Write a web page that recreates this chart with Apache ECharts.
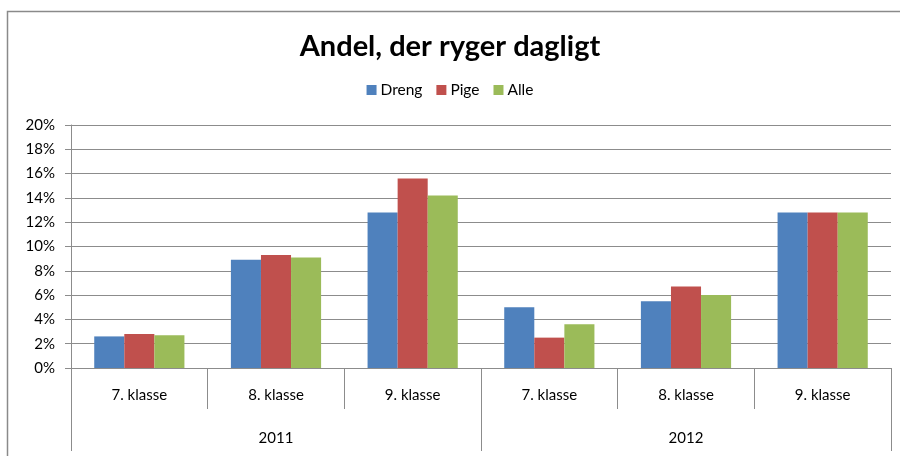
<!DOCTYPE html>
<html>
<head>
<meta charset="utf-8">
<script src="https://cdn.jsdelivr.net/npm/echarts@6/dist/echarts.min.js"></script>
<style>html,body{margin:0;padding:0;background:#fff}#c{width:900px;height:456px}</style>
</head>
<body>
<div id="c"></div>
<script>
const titleText = 'Andel, der ryger dagligt';
const classes = ['7. klasse','8. klasse','9. klasse','7. klasse','8. klasse','9. klasse'];
const years = ['2011','2012'];
const yTicks = [0, 0.02, 0.04, 0.06, 0.08, 0.10, 0.12, 0.14, 0.16, 0.18, 0.20];
const seriesNames = ['Dreng','Pige','Alle'];
const dreng = [0.026, 0.089, 0.128, 0.050, 0.055, 0.128];
const pige  = [0.028, 0.093, 0.156, 0.025, 0.067, 0.128];
const alle  = [0.027, 0.091, 0.142, 0.036, 0.060, 0.128];
const colors = ['#4F81BD','#C0504D','#9BBB59'];

const font = 'Lato, "Open Sans", sans-serif';
const chart = echarts.init(document.getElementById('c'), null, {renderer:'canvas'});
const gray = '#8c8c8c';
chart.setOption({
  animation:false,
  backgroundColor:'#fff',
  title:{text:titleText,left:'center',top:27,textStyle:{fontFamily:font,fontSize:29,fontWeight:'bold',color:'#000'}},
  legend:{top:77,left:'center',itemWidth:10,itemHeight:10,itemGap:14,icon:'rect',
    textStyle:{fontFamily:font,fontSize:15.5,color:'#000',padding:[0,0,0,-1]},data:seriesNames},
  grid:{left:71,right:9,top:125,bottom:88,containLabel:false},
  graphic:[
    {type:'polyline',shape:{points:[[7.5,460],[7.5,11.5],[900,11.5]]},style:{stroke:'#8a8a8a',lineWidth:1.5,fill:null},silent:true}
  ],
  xAxis:[
    {type:'category',data:classes,position:'bottom',
     axisLine:{show:true,lineStyle:{color:gray,width:1}},
     axisTick:{show:true,interval:0,length:41,alignWithLabel:false,lineStyle:{color:gray}},
     axisLabel:{interval:0,margin:20,fontFamily:font,fontSize:15,color:'#000'}},
    {type:'category',data:years,position:'bottom',
     axisLine:{show:false},
     axisTick:{show:true,interval:0,length:83,lineStyle:{color:gray}},
     axisLabel:{interval:0,margin:63,fontFamily:font,fontSize:15,color:'#000'}}
  ],
  yAxis:{type:'value',min:0,max:0.20,interval:0.02,
    axisLine:{show:true,lineStyle:{color:gray}},
    axisTick:{show:true,length:6,lineStyle:{color:gray}},
    splitLine:{show:true,lineStyle:{color:gray,width:1}},
    axisLabel:{margin:16,fontFamily:font,fontSize:15,color:'#000',
      formatter:v=>Math.round(v*100)+'%'}},
  series:[
    {name:seriesNames[0],type:'bar',data:dreng,xAxisIndex:0,barGap:'0%',barCategoryGap:'34%',itemStyle:{color:colors[0]}},
    {name:seriesNames[1],type:'bar',data:pige,xAxisIndex:0,barGap:'0%',barCategoryGap:'34%',itemStyle:{color:colors[1]}},
    {name:seriesNames[2],type:'bar',data:alle,xAxisIndex:0,barGap:'0%',barCategoryGap:'34%',itemStyle:{color:colors[2]}}
  ]
});
</script>
</body>
</html>
